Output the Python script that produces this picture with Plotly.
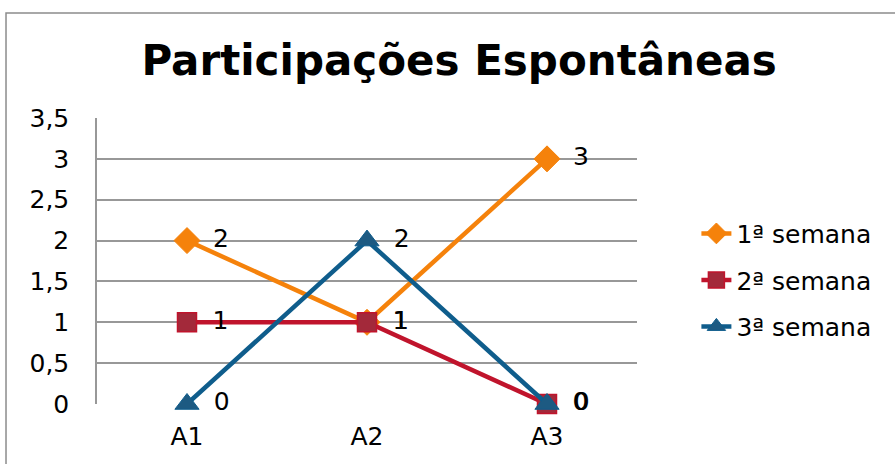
import plotly.graph_objects as go

categories = ["A1", "A2", "A3"]
series_names = ["1ª semana", "2ª semana", "3ª semana"]
semana1 = [2, 1, 3]
semana2 = [1, 1, 0]
semana3 = [0, 2, 0]
y_ticks = [0, 0.5, 1, 1.5, 2, 2.5, 3, 3.5]

FONT = "DejaVu Sans"
FS = 25

styles = [
    dict(line=dict(color="#F5820B", width=4.5),
         marker=dict(symbol="diamond", size=20, color="#F5820B", line=dict(color="#F5820B", width=1))),
    dict(line=dict(color="#C0142C", width=4.5),
         marker=dict(symbol="square", size=19, color="#A3293A", line=dict(color="#C0142C", width=1.5))),
    dict(line=dict(color="#0F5D8C", width=4.5),
         marker=dict(symbol="triangle-up", size=21, color="#1D5A82", line=dict(color="#0F5D8C", width=1))),
]

fig = go.Figure()
for i, (name, vals) in enumerate(zip(series_names, [semana1, semana2, semana3])):
    fig.add_trace(go.Scatter(
        x=categories, y=vals, name=name, mode="lines+markers+text",
        text=["\u2002" + str(v) for v in vals], textposition="middle right",
        textfont=dict(family=FONT, size=FS, color="#000000"),
        legendgroup=f"g{i}", cliponaxis=False,
        **styles[i]
    ))

fig.update_layout(
    width=895, height=464,
    margin=dict(l=97, r=258, t=118, b=60),
    paper_bgcolor="white", plot_bgcolor="white",
    separators=",.",
    title=dict(text="<b>Participações Espontâneas</b>", x=0.513, xanchor="center",
               y=0.87, yanchor="middle",
               font=dict(family=FONT, size=42, color="#000000")),
    font=dict(family=FONT, size=FS, color="#000000"),
    showlegend=True,
    legend=dict(x=1.11, y=0.676, xanchor="left", yanchor="top",
                font=dict(family=FONT, size=FS, color="#000000"),
                traceorder="grouped", tracegroupgap=11, bgcolor="rgba(0,0,0,0)"),
    xaxis=dict(type="category", range=[-0.5, 2.5], showgrid=False,
               showline=False, zeroline=False, ticks="",
               tickfont=dict(family=FONT, size=FS), ticklabelstandoff=15),
    yaxis=dict(range=[0, 3.5], tickvals=y_ticks, showgrid=True, gridcolor="#989898",
               gridwidth=1.5, zeroline=False, showline=True, linecolor="#989898",
               linewidth=1.5, ticks="", tickfont=dict(family=FONT, size=FS),
               ticklabelstandoff=21),
    shapes=[dict(type="rect", xref="paper", yref="paper",
                 x0=-0.1685, y0=-0.25, x1=1.5, y1=1.367,
                 line=dict(color="#8c8c8c", width=1.5), fillcolor="rgba(0,0,0,0)",
                 layer="below")],
)

fig.write_html("out.html", config={"displayModeBar": False},
               post_script="document.body.style.margin='0';")
